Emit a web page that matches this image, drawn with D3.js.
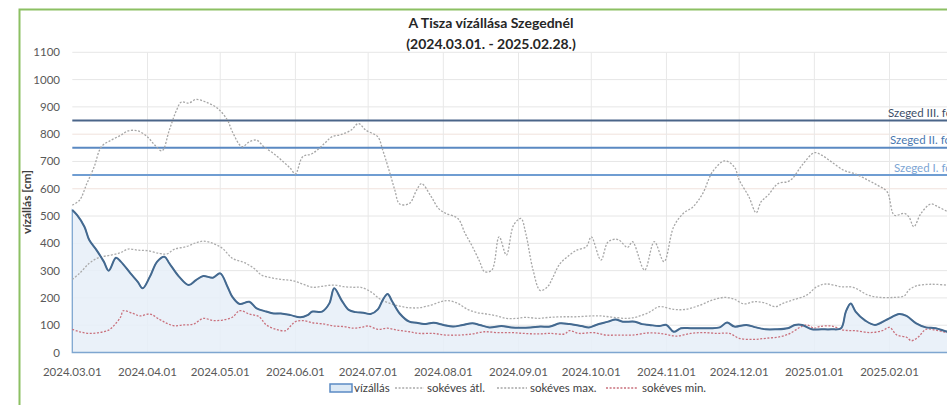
<!DOCTYPE html>
<html>
<head>
<meta charset="utf-8">
<script src="https://cdn.jsdelivr.net/npm/d3@7"></script>
<style>
  body { margin: 0; background: #fff; }
  svg { display: block; font-family: Lato, "Open Sans", sans-serif; }
  .tick-label { fill: #595959; font-size: 11.5px; }
  .legend-label { fill: #404040; font-size: 11.5px; }
</style>
</head>
<body>
<div id="chart"></div>
<script>
// ---------- DATA ----------
// day offsets from 2024.03.01, water level in cm
const START = "2024-03-01";
const END = "2025-02-28";

const VIZALLAS = [
  [0,522],[2,503],[5,461],[7,412],[10,375],[13,333],[15,300],[18,347],[20,333],[24,290],
  [27,259],[29,235],[32,278],[35,333],[38,351],[40,327],[44,278],[48,247],[51,265],[54,280],
  [58,274],[61,290],[64,241],[66,204],[69,178],[73,186],[76,162],[80,150],[83,143],[86,143],
  [90,137],[94,129],[97,137],[99,150],[103,150],[106,180],[108,235],[111,192],[114,156],[117,148],
  [120,146],[123,141],[126,158],[128,192],[130,214],[132,186],[135,143],[139,113],[142,109],[145,104],
  [149,109],[153,101],[157,95],[161,101],[165,107],[168,101],[172,92],[177,97],[181,92],[185,91],
  [189,92],[193,95],[197,95],[201,107],[205,104],[210,97],[213,92],[216,101],[221,113],[224,121],
  [227,113],[232,113],[235,104],[238,101],[242,97],[245,101],[248,76],[251,89],[255,89],[259,89],
  [263,89],[267,92],[270,110],[273,95],[278,101],[282,92],[286,85],[290,85],[295,89],[298,101],
  [301,101],[305,85],[309,85],[313,85],[317,89],[319,150],[321,180],[323,150],[327,117],[331,101],
  [336,121],[341,141],[344,134],[348,107],[352,92],[356,89],[361,76],[364,74]
];

const SOKEVES_MAX = [
  [0,540],[3,558],[6,619],[9,680],[12,754],[16,778],[20,796],[23,812],[27,812],[31,790],
  [34,760],[37,739],[40,815],[43,888],[45,918],[48,914],[51,927],[55,918],[60,894],[64,851],
  [66,809],[70,754],[73,772],[76,778],[79,754],[83,729],[87,699],[90,674],[92,654],[95,717],
  [99,729],[104,766],[107,790],[111,799],[115,815],[118,839],[121,815],[126,790],[128,742],[131,656],
  [133,595],[135,544],[139,546],[142,595],[144,619],[148,571],[151,528],[154,510],[159,491],[162,436],
  [165,388],[168,333],[170,296],[173,302],[176,424],[179,357],[182,467],[185,491],[187,436],[190,302],
  [193,227],[196,241],[198,272],[201,324],[205,357],[208,375],[212,388],[214,424],[218,339],[221,406],
  [225,414],[229,385],[231,406],[236,302],[240,406],[244,333],[248,461],[252,510],[256,534],[260,583],
  [264,662],[269,702],[273,680],[275,632],[279,571],[282,512],[284,552],[287,577],[291,619],[295,626],
  [297,638],[301,687],[306,732],[309,723],[313,699],[318,668],[323,654],[328,632],[332,613],[336,589],
  [339,503],[343,510],[345,497],[347,461],[350,510],[354,544],[357,534],[361,516],[364,505]
];

const SOKEVES_ATL = [
  [0,268],[3,290],[7,327],[11,348],[16,357],[20,366],[23,379],[27,375],[31,373],[36,363],
  [39,361],[42,378],[47,388],[51,402],[54,408],[58,400],[62,381],[66,345],[71,329],[75,308],
  [78,284],[82,274],[86,268],[91,263],[95,251],[99,239],[104,244],[108,247],[112,241],[116,239],
  [119,239],[123,223],[127,195],[131,180],[135,170],[139,164],[143,164],[148,174],[152,186],[155,190],
  [159,180],[163,158],[167,146],[171,141],[175,134],[179,125],[183,125],[187,129],[192,125],[197,129],
  [203,131],[208,131],[214,134],[218,134],[223,129],[229,125],[233,131],[238,148],[242,168],[248,158],
  [253,158],[259,174],[264,192],[269,202],[273,195],[277,178],[281,186],[285,183],[290,168],[293,180],
  [297,192],[303,211],[307,241],[311,251],[317,241],[322,239],[328,211],[333,202],[339,202],[343,207],
  [345,229],[348,244],[354,250],[361,247],[364,247]
];

const SOKEVES_MIN = [
  [0,85],[3,76],[7,70],[11,73],[15,82],[18,107],[20,131],[21,153],[25,143],[28,134],
  [32,141],[36,121],[39,107],[42,98],[46,101],[50,104],[54,125],[58,117],[62,119],[66,129],
  [69,153],[73,141],[77,131],[80,101],[84,85],[88,80],[90,97],[92,113],[95,117],[99,109],
  [104,104],[108,97],[112,95],[116,89],[119,92],[122,97],[126,85],[130,89],[134,82],[139,76],
  [143,70],[149,70],[154,64],[160,64],[165,68],[170,76],[175,73],[181,73],[186,70],[192,68],
  [197,70],[203,68],[205,80],[209,70],[215,73],[220,64],[226,64],[231,64],[238,72],[244,68],
  [249,60],[255,70],[260,73],[266,70],[271,70],[275,52],[281,48],[286,52],[292,58],[296,70],
  [300,92],[303,101],[306,89],[308,95],[313,97],[318,82],[323,80],[329,73],[334,80],[337,92],
  [340,64],[344,56],[346,43],[349,58],[352,85],[356,82],[361,73],[364,72]
];

// flood alert levels (fokozat)
const FOKOK = [
  { label: "Szeged III. fok", value: 850 },
  { label: "Szeged II. fok", value: 750 },
  { label: "Szeged I. fok", value: 650 }
];

const Y_TICKS = d3.range(0, 1101, 100);
const TITLE = ["A Tisza vízállása Szegednél", "(2024.03.01. - 2025.02.28.)"];
const LEGEND = ["vízállás", "sokéves átl.", "sokéves max.", "sokéves min."];

// ---------- SCAFFOLD ----------
const width = 947, height = 405;
const plot = { left: 72.3, right: 955, top: 52.3, bottom: 352.5 };

const svg = d3.select("#chart").append("svg")
  .attr("width", width)
  .attr("height", height);

// green frame (runs off the picture on the right and bottom)
svg.append("rect")
  .attr("x", 19.5).attr("y", 9.5)
  .attr("width", 1000).attr("height", 500)
  .attr("fill", "#fff")
  .attr("stroke", "#8cc063")
  .attr("stroke-width", 2);

const parse = d3.timeParse("%Y-%m-%d");
const start = parse(START);
const toDate = d => d3.timeDay.offset(start, d);

const x = d3.scaleTime()
  .domain([start, parse(END)])
  .range([plot.left, plot.right]);

const y = d3.scaleLinear()
  .domain([0, 1100])
  .range([plot.bottom, plot.top]);

const months = d3.timeMonth.range(start, parse(END));

// ---------- GRID ----------
svg.append("g")
  .selectAll("line")
  .data(Y_TICKS)
  .join("line")
  .attr("x1", plot.left).attr("x2", plot.right)
  .attr("y1", d => y(d)).attr("y2", d => y(d))
  .attr("stroke", d => (d === 600 || d === 800) ? "#f0e2dc" : "#e6e6e6")
  .attr("stroke-width", 1);

svg.append("g")
  .selectAll("line")
  .data(months.slice(1))
  .join("line")
  .attr("x1", d => x(d)).attr("x2", d => x(d))
  .attr("y1", plot.top).attr("y2", plot.bottom)
  .attr("stroke", "#e8e8e8");

// ---------- AXES ----------
svg.append("g")
  .selectAll("text")
  .data(Y_TICKS)
  .join("text")
  .attr("class", "tick-label")
  .attr("x", 60)
  .attr("y", d => y(d))
  .attr("dy", "0.35em")
  .attr("text-anchor", "end")
  .text(d => d);

const fmt = d3.timeFormat("%Y.%m.%d");
svg.append("g")
  .selectAll("text")
  .data(months)
  .join("text")
  .attr("class", "tick-label")
  .attr("x", d => x(d))
  .attr("y", 372)
  .attr("dy", "0.35em")
  .attr("text-anchor", "middle")
  .text(d => fmt(d));

svg.append("text")
  .attr("transform", "translate(27,202) rotate(-90)")
  .attr("text-anchor", "middle")
  .attr("dy", "0.35em")
  .attr("font-size", 12)
  .attr("font-weight", "bold")
  .attr("fill", "#404040")
  .text("vízállás [cm]");

// ---------- TITLE ----------
svg.selectAll(".title")
  .data(TITLE)
  .join("text")
  .attr("class", "title")
  .attr("x", 491)
  .attr("y", (d, i) => 23 + i * 21.5)
  .attr("dy", "0.35em")
  .attr("text-anchor", "middle")
  .attr("font-size", 14)
  .attr("font-weight", "bold")
  .attr("fill", "#262626")
  .text(d => d);

// ---------- SERIES ----------
const pts = arr => arr.map(([d, v]) => ({ date: toDate(d), value: v }));

const area = d3.area()
  .x(d => x(d.date))
  .y0(y(0))
  .y1(d => y(d.value))
  .curve(d3.curveCatmullRom.alpha(0.5));

const line = d3.line()
  .x(d => x(d.date))
  .y(d => y(d.value))
  .curve(d3.curveCatmullRom.alpha(0.5));

// water level area with outline
svg.append("path")
  .datum(pts(VIZALLAS))
  .attr("d", area)
  .attr("fill", "#e6eff8")
  .attr("fill-opacity", 0.85)
  .attr("stroke", "#7ea6d0")
  .attr("stroke-width", 1.3);

// alert levels
const fokColors = ["#4a6589", "#5a89c2", "#6f9dd2"];
const fokText = ["#3d4e68", "#4a78b0", "#7ca5d4"];
const fokX = [888, 890, 894];

svg.append("g")
  .selectAll("line")
  .data(FOKOK)
  .join("line")
  .attr("x1", plot.left).attr("x2", plot.right)
  .attr("y1", d => y(d.value)).attr("y2", d => y(d.value))
  .attr("stroke", (d, i) => fokColors[i])
  .attr("stroke-width", 2);

svg.append("g")
  .selectAll("text")
  .data(FOKOK)
  .join("text")
  .attr("x", (d, i) => fokX[i])
  .attr("y", d => y(d.value) - 3.5)
  .attr("font-size", 11.5)
  .attr("fill", (d, i) => fokText[i])
  .text(d => d.label);

// long-term lines
const dotted = [
  { data: SOKEVES_ATL, color: "#ababab" },
  { data: SOKEVES_MAX, color: "#a6a6a6" },
  { data: SOKEVES_MIN, color: "#c9707c" }
];

svg.append("g")
  .selectAll("path")
  .data(dotted)
  .join("path")
  .attr("d", d => line(pts(d.data)))
  .attr("fill", "none")
  .attr("stroke", d => d.color)
  .attr("stroke-width", 1.3)
  .attr("stroke-dasharray", "2,1.6");

// water level line
svg.append("path")
  .datum(pts(VIZALLAS))
  .attr("d", line)
  .attr("fill", "none")
  .attr("stroke", "#44698f")
  .attr("stroke-width", 2);

// ---------- LEGEND ----------
const legY = 388;
const lg = svg.append("g");

lg.append("rect")
  .attr("x", 330).attr("y", legY - 4)
  .attr("width", 22).attr("height", 8)
  .attr("fill", "#dce9f5")
  .attr("stroke", "#5b8ac4")
  .attr("stroke-width", 1.5);

const legItems = [
  { text: LEGEND[0], tx: 354, sym: null },
  { text: LEGEND[1], tx: 427, sym: [395, 424], color: "#ababab" },
  { text: LEGEND[2], tx: 530, sym: [497, 527], color: "#a6a6a6" },
  { text: LEGEND[3], tx: 642, sym: [606, 638], color: "#c9707c" }
];

lg.selectAll("line")
  .data(legItems.filter(d => d.sym))
  .join("line")
  .attr("x1", d => d.sym[0]).attr("x2", d => d.sym[1])
  .attr("y1", legY).attr("y2", legY)
  .attr("stroke", d => d.color)
  .attr("stroke-width", 1.3)
  .attr("stroke-dasharray", "2,1.6");

lg.selectAll("text")
  .data(legItems)
  .join("text")
  .attr("class", "legend-label")
  .attr("x", d => d.tx)
  .attr("y", legY)
  .attr("dy", "0.35em")
  .text(d => d.text);
</script>
</body>
</html>
